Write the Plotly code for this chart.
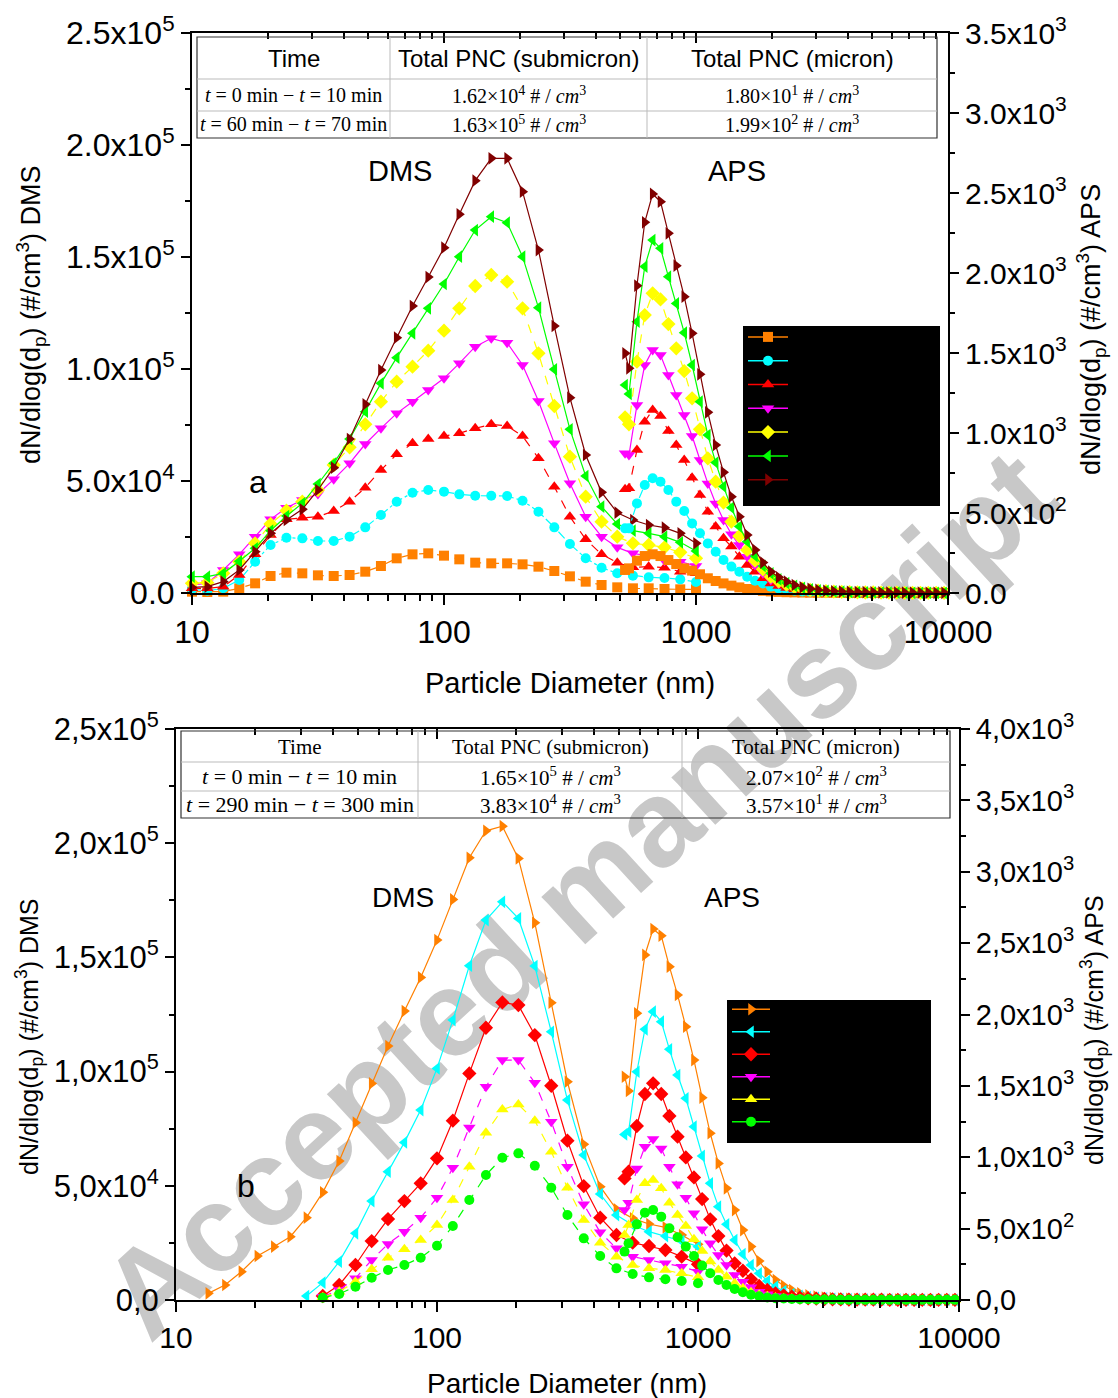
import plotly.graph_objects as go

W, H = 1118, 1398


def px(x):
    return x / W


def py(y):
    return 1 - y / H


# ---------------- data ----------------
dms_d = [10.0, 11.5, 13.3, 15.4, 17.8, 20.5, 23.7, 27.4, 31.6, 36.5, 42.2, 48.7, 56.2, 64.9, 75.0, 86.6,
         100, 115, 133, 154, 178, 205, 237, 274, 316, 365, 422, 487, 562, 649, 750, 866, 1000]
aps_d = [523, 542, 583, 626, 673, 723, 777, 835, 898, 965, 1037, 1114, 1197, 1286, 1382, 1486, 1596, 1715,
         1843, 1981, 2129, 2288, 2458, 2642, 2839, 3051, 3278, 3523, 3786, 4068, 4371, 4698, 5048, 5425,
         5829, 6264, 6732, 7234, 7774, 8354, 8977, 9647]

# panel a (DMS, left axis)
a_orange_dms = [600, 450, 600, 2083, 4315, 7590, 9080, 8780, 7890, 7590, 8035, 9520, 12050, 15480, 17260, 17710,
                16670, 15030, 13540, 13240, 13240, 12800, 11760, 9820, 7440, 5060, 3570, 2530, 2083, 2083, 1786, 1637, 1637]
a_cyan_dms = [1637, 1042, 2083, 5800, 13990, 21430, 24700, 24400, 23210, 23210, 25150, 29310, 34820, 40770, 44790, 45980,
              45240, 44040, 43450, 43450, 43300, 41220, 36310, 29310, 21870, 15480, 11310, 8780, 7740, 6990, 6700, 6100, 4910]
a_red_dms = [2083, 2083, 2830, 8035, 17260, 25890, 32890, 33630, 34080, 36610, 40770, 47020, 54910, 61900, 66810, 68750,
             70080, 71280, 73510, 75290, 74550, 70080, 60120, 47470, 34080, 23960, 17260, 13540, 11460, 11760, 11310, 9520, 8780]
a_magenta_dms = [3570, 4315, 10270, 17260, 25150, 32890, 38090, 41520, 44190, 50740, 57880, 66510, 73510, 80200, 85410, 90620,
                 95830, 102520, 109960, 113690, 111750, 101780, 85710, 66810, 48960, 34080, 25150, 20380, 17710, 16520, 14430, 13990, 12050]
a_yellow_dms = [4315, 4610, 8780, 13990, 22170, 30800, 36750, 40770, 45980, 57140, 65030, 75290, 85410, 94340, 101040, 108180,
                117110, 127080, 137050, 141960, 138990, 127080, 106990, 83480, 60860, 43000, 31840, 25150, 22170, 21430, 20390, 18150, 15480]
a_green_dms = [7290, 7290, 8780, 14140, 19940, 27830, 34370, 40030, 48660, 57880, 68750, 80950, 93600, 105060, 115920, 127080,
               137940, 150140, 162040, 167990, 165310, 150140, 127380, 99850, 73060, 52230, 38540, 30800, 27830, 26640, 25150, 22620, 18750]
a_brown_dms = [2500, 2830, 5060, 10270, 18450, 26640, 32590, 37350, 45980, 55950, 68750, 84220, 99550, 113980, 128120, 141060,
               154160, 169040, 184070, 194040, 194040, 179150, 153110, 119190, 87200, 61600, 44940, 35860, 32590, 30350, 29160, 26640, 22170]

# panel a (APS, right axis)
a_orange_aps = [144, 154, 202, 231, 242, 231, 206, 181, 154, 140, 117, 92, 75, 60, 46, 35, 25, 19, 14, 10, 7, 5, 4, 3, 2,
                2, 2, 1, 1, 1, 1, 1, 1, 1, 1, 1, 1, 1, 1, 1, 1, 1]
a_cyan_aps = [404, 404, 560, 675, 717, 696, 644, 571, 512, 435, 373, 310, 258, 206, 165, 133, 102, 77, 60, 40, 28, 20, 14,
              10, 8, 6, 5, 4, 3, 2, 2, 2, 1, 1, 1, 1, 1, 1, 1, 1, 1, 1]
a_red_aps = [648, 654, 894, 1071, 1144, 1106, 1012, 925, 831, 721, 613, 508, 415, 342, 290, 227, 175, 133, 92, 60, 43, 31,
             22, 16, 12, 9, 7, 5, 4, 3, 3, 2, 2, 1, 1, 1, 1, 1, 1, 1, 1, 1]
a_magenta_aps = [873, 862, 1175, 1425, 1519, 1487, 1362, 1237, 1112, 981, 831, 685, 560, 456, 367, 300, 227, 175, 123, 81,
                 58, 42, 30, 22, 16, 12, 9, 7, 5, 4, 3, 3, 2, 2, 2, 1, 1, 1, 1, 1, 1, 1]
a_yellow_aps = [1098, 1054, 1446, 1737, 1873, 1835, 1681, 1529, 1387, 1217, 1023, 842, 696, 565, 446, 356, 269, 202, 148,
                102, 73, 52, 37, 27, 20, 15, 11, 9, 7, 5, 4, 3, 3, 2, 2, 2, 1, 1, 1, 1, 1, 1]
a_green_aps = [1300, 1244, 1696, 2040, 2206, 2154, 1977, 1810, 1627, 1425, 1196, 987, 815, 665, 533, 415, 321, 231, 169,
               123, 85, 62, 44, 32, 23, 17, 13, 10, 8, 6, 5, 4, 3, 3, 2, 2, 2, 1, 1, 1, 1, 1]
a_brown_aps = [1498, 1404, 1921, 2317, 2494, 2446, 2248, 2046, 1852, 1623, 1367, 1129, 925, 754, 602, 477, 363, 269, 190,
               133, 98, 71, 50, 36, 26, 19, 14, 11, 9, 7, 6, 5, 4, 4, 3, 3, 2, 2, 2, 1, 1, 1]

# panel b (DMS, left axis)
b_orange_dms = [None, None, 2918, 6566, 12400, 19260, 23340, 27720, 36040, 47130, 60840, 77620, 94840, 111180, 126500, 141230,
                157570, 175370, 193610, 205430, 207470, 193320, 165160, 130140, 95560, 68140, 49610, 39680, 35750, 33270, 31810, 28450, 24370]
b_cyan_dms = [None, None, None, None, None, None, None, None, 1751, 7590, 16780, 29180, 43330, 56170, 69010, 83160,
              101400, 122560, 146340, 166330, 174350, 167060, 146190, 117450, 87540, 63470, 46400, 37200, 32830, 29910, 28010, 25820, 23340]
b_red_dms = [None, None, None, None, None, None, None, None, None, 1750, 6570, 15320, 25820, 35450, 43330, 51070,
             62010, 78500, 99210, 119200, 130290, 129120, 115990, 93810, 69740, 49900, 36040, 28450, 25090, 23640, 21890, 18970, 15610]
b_magenta_dms = [None, None, None, None, None, None, None, None, None, 1459, 4377, 9480, 17510, 24510, 29910, 36040,
                 44790, 57920, 75580, 93380, 105050, 105050, 95130, 78060, 58360, 41870, 29620, 22610, 18970, 17510, 16050, 14590, 12400]
b_yellow_dms = [None, None, None, None, None, None, None, None, None, 1167, 3650, 8025, 13420, 18530, 22180, 26260,
                32830, 43770, 58360, 73240, 83450, 85640, 78490, 64930, 49170, 35020, 25090, 18970, 15320, 13860, 13130, 11670, 9920]
b_green_dms = [None, None, None, None, None, None, None, None, None, 1021, 2626, 5836, 9775, 13130, 15320, 18530,
               23780, 32390, 43770, 54710, 62300, 64200, 58800, 49170, 37200, 26990, 19260, 13860, 11380, 9920, 9050, 8320, 7300]

# panel b (APS, right axis)
b_orange_aps = [1564, 1464, 2008, 2417, 2599, 2552, 2335, 2137, 1915, 1681, 1417, 1168, 957, 782, 630, 490, 374, 273, 198,
                140, 100, 70, 47, 33, 24, 17, 13, 10, 8, 6, 5, 4, 3, 3, 2, 2, 2, 1, 1, 1, 1, 1]
b_cyan_aps = [1160, 1179, 1599, 1896, 2020, 1950, 1756, 1576, 1413, 1214, 1009, 817, 654, 530, 420, 322, 245, 187, 133, 93,
              63, 42, 29, 21, 15, 11, 8, 6, 5, 4, 3, 3, 2, 2, 2, 1, 1, 1, 1, 1, 1, 1]
b_red_aps = [852, 899, 1219, 1443, 1518, 1443, 1289, 1144, 999, 859, 707, 565, 448, 346, 257, 205, 145, 98, 70, 47, 33, 23,
             16, 12, 9, 7, 5, 4, 3, 3, 2, 2, 2, 1, 1, 1, 1, 1, 1, 1, 1, 1]
b_magenta_aps = [630, 682, 922, 1074, 1128, 1062, 934, 810, 717, 607, 495, 397, 315, 245, 175, 128, 89, 58, 40, 28, 20, 14,
                 10, 8, 6, 5, 4, 3, 3, 2, 2, 2, 1, 1, 1, 1, 1, 1, 1, 1, 1, 1]
b_yellow_aps = [455, 525, 700, 817, 841, 782, 682, 595, 518, 425, 343, 269, 210, 163, 117, 82, 54, 37, 26, 18, 13, 10, 7, 6,
                5, 4, 3, 3, 2, 2, 2, 1, 1, 1, 1, 1, 1, 1, 1, 1, 1, 1]
b_green_aps = [339, 397, 530, 612, 630, 584, 502, 439, 374, 308, 241, 187, 140, 105, 77, 54, 37, 26, 18, 13, 10, 7, 6, 5, 4,
               3, 3, 2, 2, 2, 1, 1, 1, 1, 1, 1, 1, 1, 1, 1, 1, 1]

a_names = ["0-10 min", "10-20 min", "20-30 min", "30-40 min", "40-50 min", "50-60 min", "60-70 min"]
b_names = ["0-10 min", "60-70 min", "120-130 min", "180-190 min", "240-250 min", "290-300 min"]

x_tickvals = [10, 100, 1000, 10000]
x_ticktext = ["10", "100", "1000", "10000"]
x_minor = [20, 30, 40, 50, 60, 70, 80, 90, 200, 300, 400, 500, 600, 700, 800, 900,
           2000, 3000, 4000, 5000, 6000, 7000, 8000, 9000]

a_left_vals = [0, 50000, 100000, 150000, 200000, 250000]
a_left_text = ["0.0", "5.0x10<sup>4</sup>", "1.0x10<sup>5</sup>", "1.5x10<sup>5</sup>", "2.0x10<sup>5</sup>", "2.5x10<sup>5</sup>"]
a_left_minor = [25000, 75000, 125000, 175000, 225000]
a_right_vals = [0, 500, 1000, 1500, 2000, 2500, 3000, 3500]
a_right_text = ["0.0", "5.0x10<sup>2</sup>", "1.0x10<sup>3</sup>", "1.5x10<sup>3</sup>", "2.0x10<sup>3</sup>",
                "2.5x10<sup>3</sup>", "3.0x10<sup>3</sup>", "3.5x10<sup>3</sup>"]
a_right_minor = [250, 750, 1250, 1750, 2250, 2750, 3250]

b_left_vals = [0, 50000, 100000, 150000, 200000, 250000]
b_left_text = ["0,0", "5,0x10<sup>4</sup>", "1,0x10<sup>5</sup>", "1,5x10<sup>5</sup>", "2,0x10<sup>5</sup>", "2,5x10<sup>5</sup>"]
b_left_minor = [25000, 75000, 125000, 175000, 225000]
b_right_vals = [0, 500, 1000, 1500, 2000, 2500, 3000, 3500, 4000]
b_right_text = ["0,0", "5,0x10<sup>2</sup>", "1,0x10<sup>3</sup>", "1,5x10<sup>3</sup>", "2,0x10<sup>3</sup>",
                "2,5x10<sup>3</sup>", "3,0x10<sup>3</sup>", "3,5x10<sup>3</sup>", "4,0x10<sup>3</sup>"]
b_right_minor = [250, 750, 1250, 1750, 2250, 2750, 3250, 3750]

# table texts
a_table = [["Time", "Total PNC (submicron)", "Total PNC (micron)"],
           ["<i>t</i> = 0 min − <i>t</i> = 10 min", "1.62×10<sup>4</sup> # / <i>cm</i><sup>3</sup>", "1.80×10<sup>1</sup> # / <i>cm</i><sup>3</sup>"],
           ["<i>t</i> = 60 min − <i>t</i> = 70 min", "1.63×10<sup>5</sup> # / <i>cm</i><sup>3</sup>", "1.99×10<sup>2</sup> # / <i>cm</i><sup>3</sup>"]]
b_table = [["Time", "Total PNC (submicron)", "Total PNC (micron)"],
           ["<i>t</i> = 0 min − <i>t</i> = 10 min", "1.65×10<sup>5</sup> # / <i>cm</i><sup>3</sup>", "2.07×10<sup>2</sup> # / <i>cm</i><sup>3</sup>"],
           ["<i>t</i> = 290 min − <i>t</i> = 300 min", "3.83×10<sup>4</sup> # / <i>cm</i><sup>3</sup>", "3.57×10<sup>1</sup> # / <i>cm</i><sup>3</sup>"]]

# ---------------- styles ----------------
SANS = "Liberation Sans, Arial, sans-serif"
SERIF = "Liberation Serif, Times New Roman, serif"

a_styles = [("#FF8000", "square", "dash", 10), ("#00FFFF", "circle", "dashdot", 10), ("#FF0000", "triangle-up", "dash", 11),
            ("#FF00FF", "triangle-down", "solid", 11), ("#FFFF00", "diamond", "dash", 11), ("#00FF00", "triangle-left", "solid", 11),
            ("#800000", "triangle-right", "solid", 11)]
b_styles = [("#FF8000", "triangle-right", "solid", 11), ("#00FFFF", "triangle-left", "solid", 11), ("#FF0000", "diamond", "solid", 11),
            ("#FF00FF", "triangle-down", "dash", 11), ("#FFFF00", "triangle-up", "dash", 11), ("#00FF00", "circle", "dash", 10)]

a_dms = [a_orange_dms, a_cyan_dms, a_red_dms, a_magenta_dms, a_yellow_dms, a_green_dms, a_brown_dms]
a_aps = [a_orange_aps, a_cyan_aps, a_red_aps, a_magenta_aps, a_yellow_aps, a_green_aps, a_brown_aps]
b_dms = [b_orange_dms, b_cyan_dms, b_red_dms, b_magenta_dms, b_yellow_dms, b_green_dms]
b_aps = [b_orange_aps, b_cyan_aps, b_red_aps, b_magenta_aps, b_yellow_aps, b_green_aps]

fig = go.Figure()


def add_panel(names, dms, aps, styles, xa, ya, ya2, legend, tag):
    for name, dv, av, (col, sym, dash, msize) in zip(names, dms, aps, styles):
        grp = tag + name
        fig.add_trace(go.Scatter(x=dms_d, y=dv, xaxis=xa, yaxis=ya, mode="lines+markers", name=name,
                                 legend=legend, legendgroup=grp, showlegend=False, cliponaxis=False,
                                 line=dict(color=col, width=1.2, dash=dash),
                                 marker=dict(symbol=sym, size=msize, color=col)))
        fig.add_trace(go.Scatter(x=aps_d, y=av, xaxis=xa, yaxis=ya2, mode="lines+markers", name=name,
                                 legend=legend, legendgroup=grp, showlegend=False, cliponaxis=False,
                                 line=dict(color=col, width=1.2, dash=dash),
                                 marker=dict(symbol=sym, size=msize, color=col)))
        # legend entry (solid line, like the reference legend)
        fig.add_trace(go.Scatter(x=[None], y=[None], xaxis=xa, yaxis=ya, mode="lines+markers", name=name,
                                 legend=legend, legendgroup=grp, showlegend=True, hoverinfo="skip",
                                 line=dict(color=col, width=1.5),
                                 marker=dict(symbol=sym, size=msize, color=col)))


add_panel(a_names, a_dms, a_aps, a_styles, "x", "y", "y2", "legend", "a")
add_panel(b_names, b_dms, b_aps, b_styles, "x3", "y3", "y4", "legend2", "b")

# dummy traces so the top (mirror) axes get drawn
fig.add_trace(go.Scatter(x=[None], y=[None], xaxis="x2", yaxis="y", showlegend=False, hoverinfo="skip"))
fig.add_trace(go.Scatter(x=[None], y=[None], xaxis="x4", yaxis="y3", showlegend=False, hoverinfo="skip"))


def xaxis_cfg(domain, anchor, fsize, top=False, overlay=None):
    d = dict(type="log", range=[1, 4], autorange=False, domain=domain, anchor=anchor,
             showline=True, linecolor="black", linewidth=2, showgrid=False, zeroline=False,
             tickvals=x_tickvals, ticktext=x_ticktext, tickwidth=2, tickcolor="black",
             tickfont=dict(size=fsize, family=SANS, color="black"), automargin=False)
    if top:
        d.update(side="top", overlaying=overlay, ticks="inside", ticklen=10, showticklabels=False,
                 minor=dict(tickvals=x_minor, ticks="inside", ticklen=6, tickwidth=2, tickcolor="black"))
    else:
        d.update(ticks="outside", ticklen=10,
                 minor=dict(tickvals=x_minor, ticks="outside", ticklen=6, tickwidth=2, tickcolor="black"))
    return d


def yaxis_cfg(domain, anchor, rng, vals, text, minor, fsize, right=False, overlay=None):
    d = dict(range=rng, autorange=False, anchor=anchor, showline=True, linecolor="black", linewidth=2,
             showgrid=False, zeroline=False, tickmode="array", tickvals=vals, ticktext=text,
             ticks="outside", ticklen=9, tickwidth=2, tickcolor="black",
             minor=dict(tickvals=minor, ticks="outside", ticklen=5, tickwidth=2, tickcolor="black"),
             tickfont=dict(size=fsize, family=SANS, color="black"), automargin=False)
    if right:
        d.update(side="right", overlaying=overlay)
    else:
        d.update(domain=domain)
    return d


fig.update_layout(
    width=W, height=H, margin=dict(l=0, r=0, t=0, b=0),
    paper_bgcolor="white", plot_bgcolor="rgba(0,0,0,0)",
    xaxis=xaxis_cfg([px(192), px(948)], "y", 32),
    xaxis2=xaxis_cfg([px(192), px(948)], "y", 32, top=True, overlay="x"),
    yaxis=yaxis_cfg([py(593), py(33)], "x", [0, 250000], a_left_vals, a_left_text, a_left_minor, 32),
    yaxis2=yaxis_cfg(None, "x", [0, 3500], a_right_vals, a_right_text, a_right_minor, 30, right=True, overlay="y"),
    xaxis3=xaxis_cfg([px(176), px(959)], "y3", 30),
    xaxis4=xaxis_cfg([px(176), px(959)], "y3", 30, top=True, overlay="x3"),
    yaxis3=yaxis_cfg([py(1300), py(729)], "x3", [0, 250000], b_left_vals, b_left_text, b_left_minor, 31),
    yaxis4=yaxis_cfg(None, "x3", [0, 4000], b_right_vals, b_right_text, b_right_minor, 29, right=True, overlay="y3"),
    legend=dict(x=px(743), y=py(320), xanchor="left", yanchor="top", bgcolor="rgba(0,0,0,0)", borderwidth=0,
                font=dict(size=16, color="black", family=SANS), itemwidth=40, tracegroupgap=0),
    legend2=dict(x=px(727), y=py(993), xanchor="left", yanchor="top", bgcolor="rgba(0,0,0,0)", borderwidth=0,
                 font=dict(size=15, color="black", family=SANS), itemwidth=38, tracegroupgap=0),
    showlegend=True,
)

shapes = []
# watermark
shapes.append(dict(type="rect", xref="paper", yref="paper", x0=px(570) - 0.3, x1=px(570) + 0.3,
                   y0=py(885) - 0.2, y1=py(885) + 0.2, line=dict(width=0), fillcolor="rgba(0,0,0,0)",
                   layer="below",
                   label=dict(text="Accepted manuscript", textangle=-42.6, textposition="middle center",
                              font=dict(size=122, color="#c8c8c8", family=SANS, weight="bold"))))
# legend black boxes
shapes.append(dict(type="rect", xref="paper", yref="paper", x0=px(743), x1=px(940), y0=py(506), y1=py(326),
                   line=dict(width=0), fillcolor="black", layer="above"))
shapes.append(dict(type="rect", xref="paper", yref="paper", x0=px(727), x1=px(931), y0=py(1143), y1=py(1000),
                   line=dict(width=0), fillcolor="black", layer="above"))

annotations = []


def add_table(left, right, rows_y, cols_x, texts, head_font, body_font, head_size, body_sizes):
    top, d1, d2, bottom = rows_y
    c1, c2 = cols_x
    shapes.append(dict(type="rect", xref="paper", yref="paper", x0=px(left), x1=px(right), y0=py(bottom), y1=py(top),
                       line=dict(color="#333333", width=1.2), fillcolor="rgba(0,0,0,0)", layer="above"))
    for yy in (d1, d2):
        shapes.append(dict(type="line", xref="paper", yref="paper", x0=px(left), x1=px(right), y0=py(yy), y1=py(yy),
                           line=dict(color="#bbbbbb", width=1), layer="above"))
    for xx in (c1, c2):
        shapes.append(dict(type="line", xref="paper", yref="paper", x0=px(xx), x1=px(xx), y0=py(bottom), y1=py(top),
                           line=dict(color="#bbbbbb", width=1), layer="above"))
    cx = [(left + c1) / 2, (c1 + c2) / 2, (c2 + right) / 2]
    cy = [(top + d1) / 2, (d1 + d2) / 2, (d2 + bottom) / 2]
    for r in range(3):
        for c in range(3):
            fam = head_font if r == 0 else body_font
            size = head_size if r == 0 else body_sizes[c]
            annotations.append(dict(x=px(cx[c]), y=py(cy[r]), xref="paper", yref="paper", text=texts[r][c],
                                    showarrow=False, xanchor="center", yanchor="middle",
                                    font=dict(family=fam, size=size, color="black")))


add_table(197, 937, (37, 79, 111, 138), (390, 647), a_table, SANS, SERIF, 24, (20, 20, 20))
add_table(181, 950, (731, 762, 791, 818), (418, 682), b_table, SERIF, SERIF, 21, (22, 21, 21))


def ann(x, y, text, size, angle=0, family=SANS):
    annotations.append(dict(x=px(x), y=py(y), xref="paper", yref="paper", text=text, showarrow=False,
                            xanchor="center", yanchor="middle", textangle=angle,
                            font=dict(family=family, size=size, color="black")))


ann(400, 171, "DMS", 29)
ann(737, 171, "APS", 29)
ann(258, 482, "a", 32)
ann(403, 898, "DMS", 28)
ann(732, 898, "APS", 28)
ann(246, 1186, "b", 32)
ann(570, 683, "Particle Diameter (nm)", 29)
ann(567, 1383, "Particle Diameter (nm)", 28)
ann(31, 315, "dN/dlog(d<sub>p</sub>) (#/cm<sup>3</sup>) DMS", 27, -90)
ann(1091, 330, "dN/dlog(d<sub>p</sub>) (#/cm<sup>3</sup>) APS", 27, -90)
ann(29, 1037, "dN/dlog(d<sub>p</sub>) (#/cm<sup>3</sup>) DMS", 25, -90)
ann(1094, 1030, "dN/dlog(d<sub>p</sub>) (#/cm<sup>3</sup>) APS", 25, -90)

fig.update_layout(shapes=shapes, annotations=annotations)

fig.write_html("out.html")
